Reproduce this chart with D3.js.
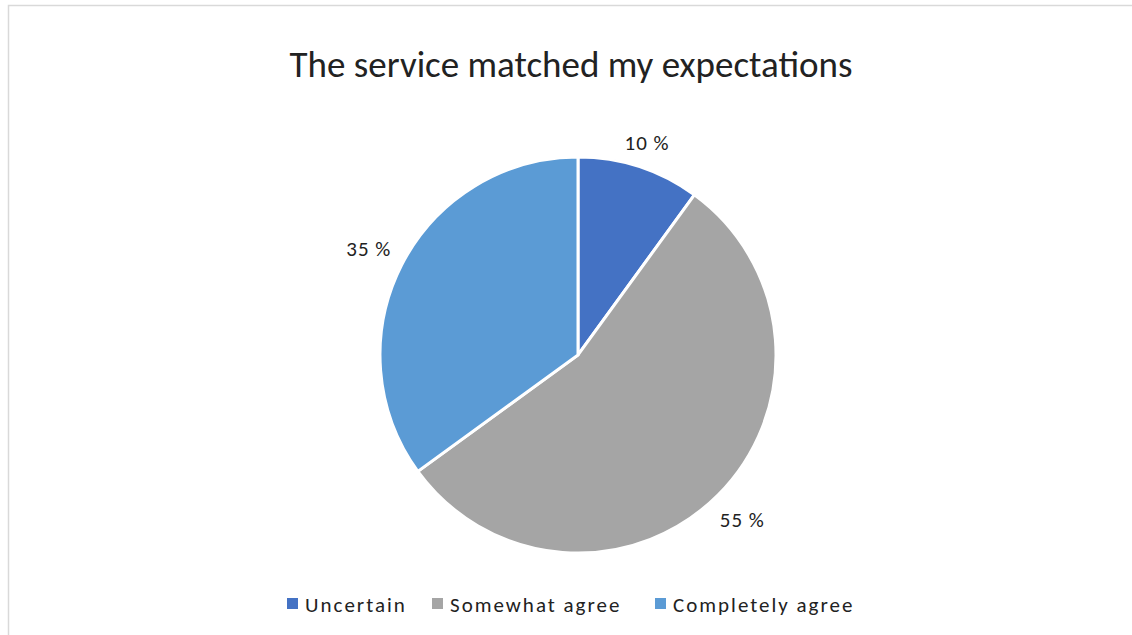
<!DOCTYPE html>
<html>
<head>
<meta charset="utf-8">
<script src="https://cdn.jsdelivr.net/npm/d3@7"></script>
<style>
  body { margin: 0; background: #fff; }
  text { font-family: Carlito, "Open Sans", "Liberation Sans", sans-serif; fill: #222; }
</style>
</head>
<body>
<svg id="chart" width="1132" height="635"></svg>
<script>
var categories = ['Uncertain', 'Somewhat agree', 'Completely agree']
var values = [10, 55, 35]
var valueLabels = ['10 %', '55 %', '35 %']
var colors = ['#4472c4', '#a5a5a5', '#5b9bd5']

var svg = d3.select('#chart')
var cx = 578
var cy = 355
var radius = 198

// chart frame
svg.append('rect')
  .attr('x', 8.5).attr('y', 5.5)
  .attr('width', 1140).attr('height', 640)
  .attr('fill', 'none')
  .attr('stroke', '#d9d9d9')
  .attr('stroke-width', 1.5)

svg.append('text')
  .attr('x', 571).attr('y', 77)
  .attr('text-anchor', 'middle')
  .style('font-size', '37px')
  .text('The service matched my expectations')

var pie = d3.pie().sort(null).value(function (d) { return d })
var arcs = pie(values)
var arc = d3.arc().innerRadius(0).outerRadius(radius)

var g = svg.append('g').attr('transform', 'translate(' + cx + ',' + cy + ')')

g.selectAll('path')
  .data(arcs)
  .enter().append('path')
  .attr('d', arc)
  .attr('fill', function (d, i) { return colors[i] })
  .attr('stroke', '#fff')
  .attr('stroke-width', 3)

// labels placed just outside the pie, box pushed out along the mid angle
var halfW = 29
var halfH = 11
g.selectAll('text.lbl')
  .data(arcs)
  .enter().append('text')
  .attr('class', 'lbl')
  .attr('transform', function (d) {
    var a = (d.startAngle + d.endAngle) / 2
    var sx = Math.sin(a)
    var cy2 = -Math.cos(a)
    var dist = radius + 6 + Math.abs(sx) * halfW + Math.abs(cy2) * halfH
    return 'translate(' + (sx * dist) + ',' + (cy2 * dist) + ')'
  })
  .attr('text-anchor', 'middle')
  .attr('dy', '0.35em')
  .style('font-size', '21px')
  .style('letter-spacing', '1px')
  .text(function (d, i) { return valueLabels[i] })

// legend
var legendX = [287, 432, 655]
var legend = svg.append('g')
legend.selectAll('rect')
  .data(categories)
  .enter().append('rect')
  .attr('x', function (d, i) { return legendX[i] })
  .attr('y', 598)
  .attr('width', 11).attr('height', 11)
  .attr('fill', function (d, i) { return colors[i] })
legend.selectAll('text')
  .data(categories)
  .enter().append('text')
  .attr('x', function (d, i) { return legendX[i] + 18 })
  .attr('y', 612)
  .style('font-size', '21px')
  .style('letter-spacing', '2px')
  .text(function (d) { return d })
</script>
</body>
</html>
